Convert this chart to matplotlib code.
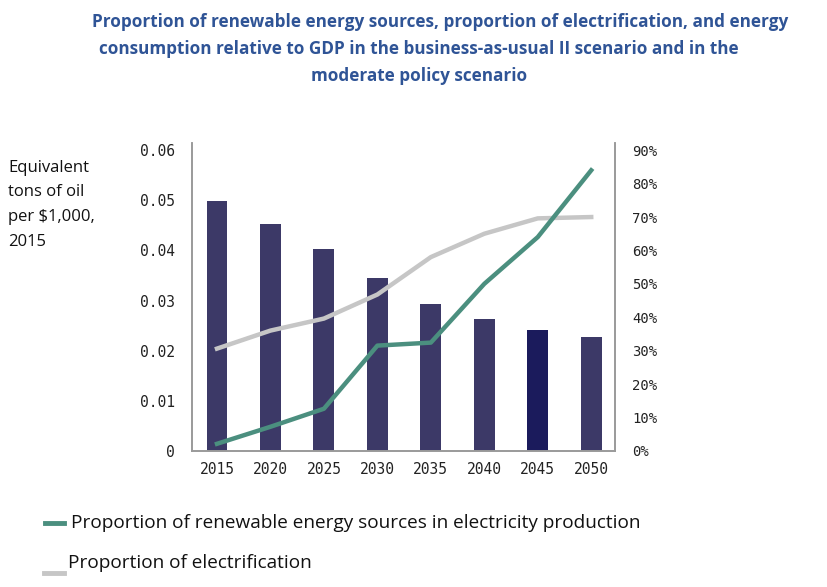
import matplotlib
matplotlib.use("Agg")
import matplotlib.pyplot as plt
from matplotlib.lines import Line2D
from matplotlib.ticker import FuncFormatter

# --- Данные ---
years = ["2015", "2020", "2025", "2030", "2035", "2040", "2045", "2050"]
energy_per_gdp = [0.0498, 0.0452, 0.0402, 0.0344, 0.0294, 0.0264, 0.0242, 0.0228]
renewable_share = [2.1, 7.2, 12.6, 31.5, 32.4, 50.0, 64.0, 84.0]
electrification_share = [30.6, 36.0, 39.6, 46.8, 58.0, 65.0, 69.6, 70.0]
left_ticks = [0, 0.01, 0.02, 0.03, 0.04, 0.05, 0.06]
right_ticks = [0, 10, 20, 30, 40, 50, 60, 70, 80, 90]

title_lines = [
    "Proportion of renewable energy sources, proportion of electrification, and energy",
    "consumption relative to GDP in the business-as-usual II scenario and in the",
    "moderate policy scenario",
]
ylabel = "Equivalent\ntons of oil\nper $1,000,\n2015"
legend_labels = ["Proportion of renewable energy sources in electricity production",
                 "Proportion of electrification"]

bar_color = "#3c3967"
bar_highlight = "#1b1b5c"
green = "#4b8f7f"
grey = "#c6c6c6"
spine = "#9a9a9a"
tick_font = "DejaVu Sans Mono"

fig = plt.figure(figsize=(8.27, 5.87), dpi=100)
ax = fig.add_axes([0.232, 0.232, 0.512, 0.524])

x = list(range(len(years)))
colors = [bar_highlight if y == "2045" else bar_color for y in years]
ax.bar(x, energy_per_gdp, width=0.39, color=colors, zorder=2)
ax.set_xlim(-0.47, 7.45)
ax.set_ylim(0, 0.0614)
ax.set_xticks(x)
ax.set_xticklabels(years, fontfamily=tick_font, fontsize=10.5, color="#222222")
ax.set_yticks(left_ticks)
ax.set_yticklabels(["0" if v == 0 else f"{v:.2f}" for v in left_ticks],
                   fontfamily=tick_font, fontsize=10.5, color="#222222")
ax.tick_params(length=0, pad=8)
ax.tick_params(axis="y", pad=12)
ax.spines["top"].set_visible(False)
for s in ("left", "bottom", "right"):
    ax.spines[s].set_color(spine)
    ax.spines[s].set_linewidth(1.2)

ax2 = ax.twinx()
ax2.plot(x, electrification_share, color=grey, lw=3.2, zorder=3)
ax2.plot(x, renewable_share, color=green, lw=3.2, zorder=4)
ax2.set_ylim(0, 92.1)
ax2.set_yticks(right_ticks)
ax2.yaxis.set_major_formatter(FuncFormatter(lambda v, _: f"{v:.0f}%"))
for lbl in ax2.get_yticklabels():
    lbl.set_fontfamily(tick_font)
ax2.tick_params(length=0, pad=12, labelsize=10, labelcolor="#222222")
ax2.spines["top"].set_visible(False)
for s in ("left", "bottom", "right"):
    ax2.spines[s].set_color(spine)
    ax2.spines[s].set_linewidth(1.2)

# Заголовок построчно (первая строка в оригинале чуть смещена вправо)
for (cx, cy), line in zip([(0.532, 0.962), (0.507, 0.916), (0.507, 0.870)], title_lines):
    fig.text(cx, cy, line, ha="center", va="center", fontsize=12.3, fontweight="bold",
             color="#2f5496", family="Open Sans")

fig.text(0.01, 0.728, ylabel, ha="left", va="top", fontsize=12, color="#111111",
         family="Open Sans", linespacing=1.72)

# Легенда вручную, как в исходнике
fig.add_artist(Line2D([0.055, 0.077], [0.109, 0.109], color=green, lw=3.5))
fig.text(0.086, 0.109, legend_labels[0], ha="left", va="center", fontsize=13.7,
         family="Open Sans", color="#111111")
fig.add_artist(Line2D([0.053, 0.077], [0.024, 0.024], color=grey, lw=3.5))
fig.text(0.082, 0.041, legend_labels[1], ha="left", va="center", fontsize=13.7,
         family="Open Sans", color="#111111")

fig.savefig("out.png", dpi=100)
